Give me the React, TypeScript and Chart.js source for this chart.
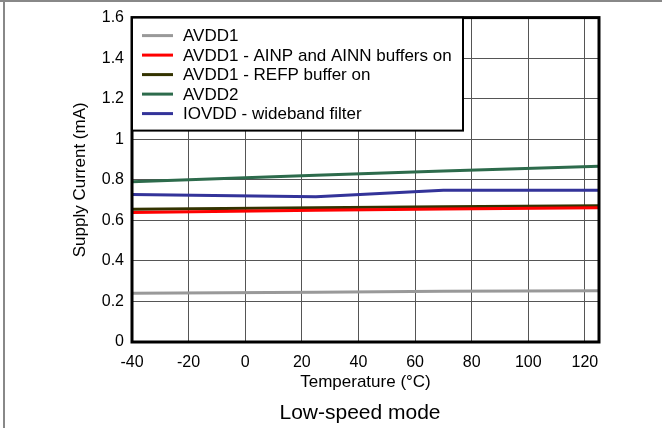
import React, { useEffect, useRef } from "react";
import { Chart, registerables } from "chart.js";

Chart.register(...registerables);

const temps = [-40, 25, 70, 125];
const avdd1 = [0.24, 0.245, 0.25, 0.253];
const avdd1Ain = [0.639, 0.65, 0.656, 0.662];
const avdd1Refp = [0.655, 0.662, 0.667, 0.672];
const avdd2 = [0.79, 0.823, 0.844, 0.867];
const iovdd = [0.727, 0.716, 0.749, 0.749];

const seriesLabels = [
  "AVDD1",
  "AVDD1 - AINP and AINN buffers on",
  "AVDD1 - REFP buffer on",
  "AVDD2",
  "IOVDD - wideband filter",
];
const seriesColors = ["#999999", "#ff0000", "#333300", "#2d6b4c", "#333399"];
const seriesValues = [avdd1, avdd1Ain, avdd1Refp, avdd2, iovdd];

const xTicks = [-40, -20, 0, 20, 40, 60, 80, 100, 120];
const yTicks = [0, 0.2, 0.4, 0.6, 0.8, 1, 1.2, 1.4, 1.6];

const xTitle = "Temperature (°C)";
const yTitle = "Supply Current (mA)";
const captionText = "Low-speed mode";

const FONT = "'Liberation Sans', Arial, sans-serif";

const decorPlugin = {
  id: "decor",
  beforeDraw(chart: any) {
    const ctx = chart.ctx;
    ctx.save();
    ctx.fillStyle = "#ffffff";
    ctx.fillRect(0, 0, chart.width, chart.height);
    ctx.restore();
  },
  afterDatasetsDraw(chart: any) {
    const ctx = chart.ctx;
    const a = chart.chartArea;
    ctx.save();
    // plot border
    ctx.strokeStyle = "#000000";
    ctx.lineWidth = 3;
    ctx.strokeRect(a.left, a.top, a.right - a.left, a.bottom - a.top);

    // legend box
    const lx = a.left, ly = a.top, lw = 331, lh = 113;
    ctx.fillStyle = "#ffffff";
    ctx.fillRect(lx, ly, lw, lh);
    ctx.lineWidth = 2;
    ctx.strokeStyle = "#000000";
    ctx.strokeRect(lx, ly, lw, lh);
    ctx.font = `17px ${FONT}`;
    ctx.textBaseline = "middle";
    ctx.textAlign = "left";
    const ds = chart.data.datasets;
    ds.forEach((d: any, i: number) => {
      const y = ly + 18 + i * 19.5;
      ctx.strokeStyle = d.borderColor;
      ctx.lineWidth = 3;
      ctx.beginPath();
      ctx.moveTo(lx + 10, y);
      ctx.lineTo(lx + 41, y);
      ctx.stroke();
      ctx.fillStyle = "#000000";
      ctx.fillText(d.label, lx + 51, y + 1);
    });

    // titles
    ctx.fillStyle = "#000000";
    ctx.textAlign = "center";
    ctx.textBaseline = "middle";
    ctx.font = `17px ${FONT}`;
    ctx.fillText(xTitle, (a.left + a.right) / 2, 382);
    ctx.font = `21px ${FONT}`;
    ctx.fillText(captionText, 360, 413);
    ctx.font = `17px ${FONT}`;
    ctx.translate(80, (a.top + a.bottom) / 2);
    ctx.rotate(-Math.PI / 2);
    ctx.fillText(yTitle, 0, 0);
    ctx.restore();

    // outer frame
    ctx.save();
    ctx.fillStyle = "#888888";
    ctx.fillRect(0, 0, chart.width, 2);
    ctx.fillRect(3, 0, 2, chart.height);
    ctx.restore();
  },
};

export default function App() {
  const ref = useRef<HTMLCanvasElement>(null);
  useEffect(() => {
    if (!ref.current) return;
    const chart = new Chart(ref.current, {
      type: "line",
      data: {
        datasets: seriesLabels.map((label, i) => ({
          label,
          data: temps.map((t, j) => ({ x: t, y: seriesValues[i][j] })),
          borderColor: seriesColors[i],
          backgroundColor: seriesColors[i],
          borderWidth: 3,
          pointRadius: 0,
          tension: 0,
        })),
      },
      options: {
        responsive: false,
        animation: false,
        layout: { padding: { left: 0, right: 63, top: 17, bottom: 0 } },
        plugins: {
          legend: { display: false },
          tooltip: { enabled: false },
        },
        scales: {
          x: {
            type: "linear",
            min: -40,
            max: 125,
            afterBuildTicks: (s: any) => {
              s.ticks = xTicks.map((v) => ({ value: v }));
            },
            afterFit: (s: any) => {
              s.height = 86;
            },
            border: { display: false },
            grid: { color: "#555555", lineWidth: 1, drawTicks: false },
            ticks: {
              color: "#000000",
              font: { family: FONT, size: 16 },
              padding: 11,
              maxRotation: 0,
              autoSkip: false,
              callback: (v: any) => String(v),
            },
          },
          y: {
            type: "linear",
            min: 0,
            max: 1.6,
            afterBuildTicks: (s: any) => {
              s.ticks = yTicks.map((v) => ({ value: v }));
            },
            afterFit: (s: any) => {
              s.width = 132;
            },
            border: { display: false },
            grid: { color: "#555555", lineWidth: 1, drawTicks: false },
            ticks: {
              color: "#000000",
              font: { family: FONT, size: 16 },
              padding: 8,
              autoSkip: false,
              callback: (v: any) => String(Math.round(Number(v) * 10) / 10),
            },
          },
        },
      },
      plugins: [decorPlugin],
    });
    return () => chart.destroy();
  }, []);
  return (
    <div style={{ position: "absolute", left: 0, top: 0, width: 662, height: 428 }}>
      <canvas ref={ref} width={662} height={428} style={{ width: 662, height: 428, display: "block" }} />
    </div>
  );
}
